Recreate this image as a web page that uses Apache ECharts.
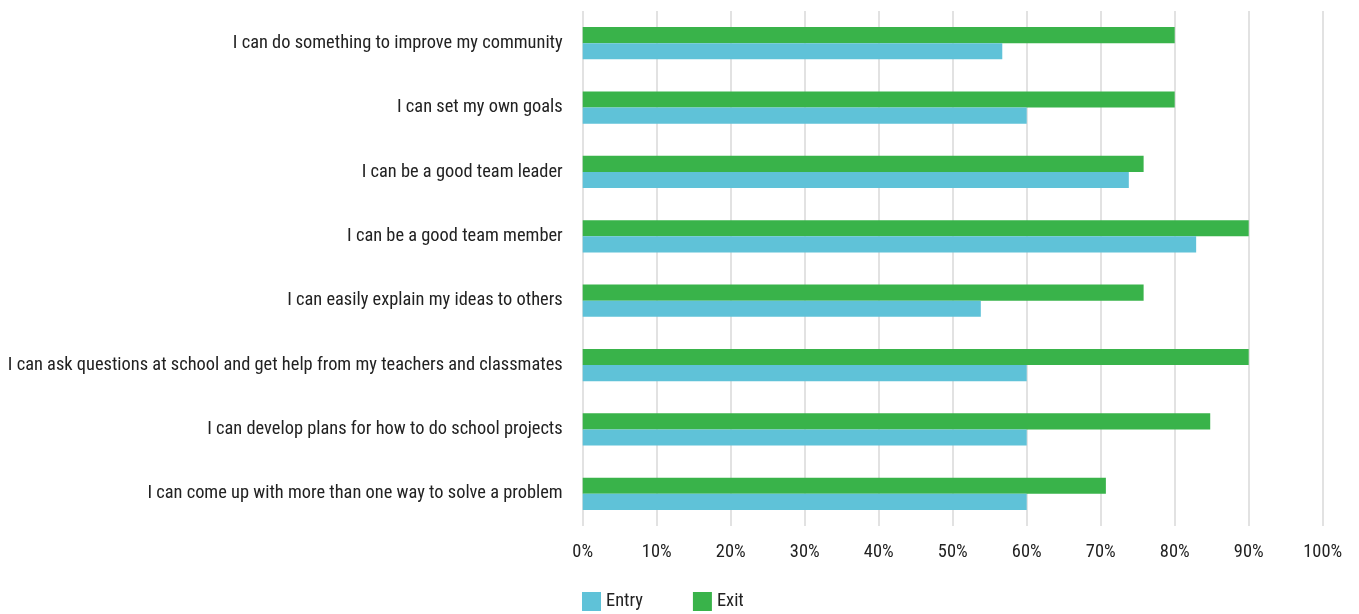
<!DOCTYPE html>
<html>
<head>
<meta charset="utf-8">
<script src="https://cdn.jsdelivr.net/npm/echarts@6/dist/echarts.min.js"></script>
<style>
  html, body { margin: 0; padding: 0; background: #fff; }
  #chart { width: 1359px; height: 614px; }
</style>
</head>
<body>
<div id="chart"></div>
<script>
// Survey statements, listed top to bottom
const categories = [
  'I can do something to improve my community',
  'I can set my own goals',
  'I can be a good team leader',
  'I can be a good team member',
  'I can easily explain my ideas to others',
  'I can ask questions at school and get help from my teachers and classmates',
  'I can develop plans for how to do school projects',
  'I can come up with more than one way to solve a problem'
];
// Share of students agreeing (%)
const entryValues = [56.7, 60, 73.8, 82.9, 53.8, 60, 60, 60];
const exitValues = [80, 80, 75.8, 90, 75.8, 90, 84.8, 70.7];
const seriesNames = ['Entry', 'Exit'];

const FONT = '"Roboto Condensed", "DejaVu Sans Condensed", sans-serif';
const FS = 18.4;
const chart = echarts.init(document.getElementById('chart'));
chart.setOption({
  animation: false,
  textStyle: { fontFamily: FONT },
  grid: { left: 582.7, right: 36.3, top: 11, bottom: 88, containLabel: false, outerBoundsMode: 'none' },
  legend: {
    data: seriesNames,
    left: 582,
    top: 592,
    padding: 0,
    itemWidth: 19,
    itemHeight: 19,
    itemGap: 50,
    icon: 'rect',
    textStyle: { fontFamily: FONT, fontSize: FS, color: '#222' }
  },
  xAxis: {
    type: 'value',
    min: 0,
    max: 100,
    interval: 10,
    axisLine: { show: false },
    axisTick: { show: false },
    axisLabel: { formatter: '{value}%', fontFamily: FONT, fontSize: FS, color: '#222', margin: 17 },
    splitLine: { lineStyle: { color: '#d9d9d9', width: 1.5 } }
  },
  yAxis: {
    type: 'category',
    data: categories,
    inverse: true,
    axisLine: { show: false },
    axisTick: { show: false },
    axisLabel: { fontFamily: FONT, fontSize: FS, color: '#222', margin: 20 }
  },
  series: [
    {
      name: 'Exit', type: 'bar', data: exitValues,
      itemStyle: { color: '#39b34a' },
      barGap: '0%', barCategoryGap: '50%'
    },
    {
      name: 'Entry', type: 'bar', data: entryValues,
      itemStyle: { color: '#5fc2d8' },
      barGap: '0%', barCategoryGap: '50%'
    }
  ]
});
</script>
</body>
</html>
